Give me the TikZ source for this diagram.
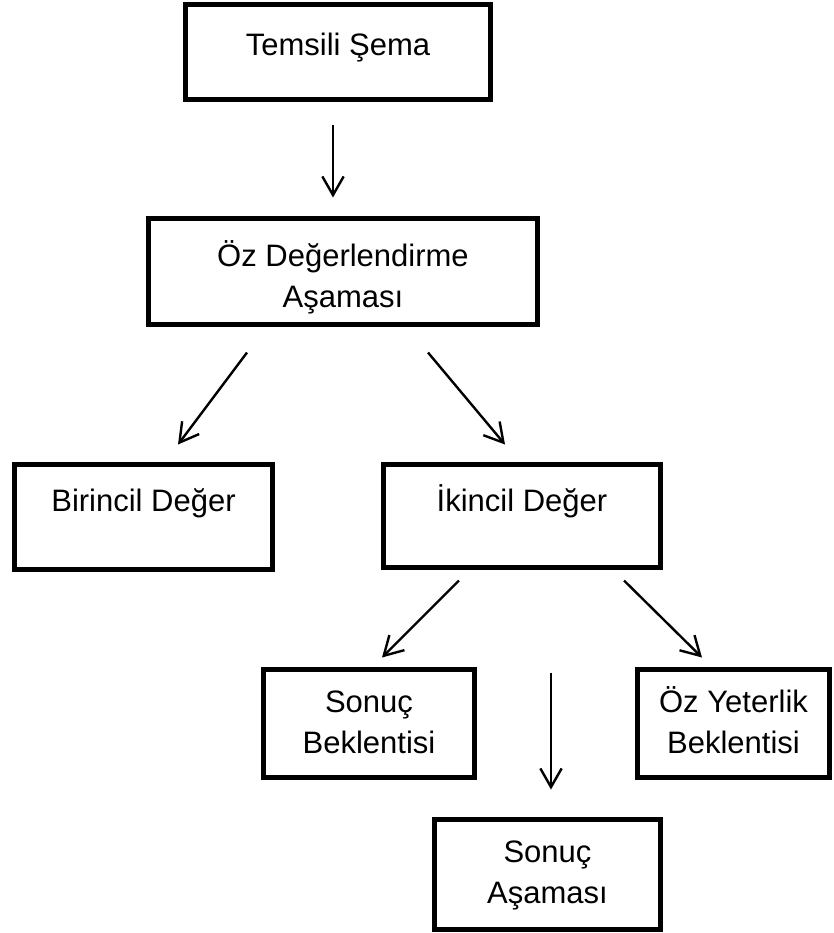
\documentclass[tikz,border=0pt]{standalone}
\usepackage{fontspec}
\setmainfont{Liberation Sans}
\usetikzlibrary{arrows.meta}

\begin{document}
\begin{tikzpicture}[x=0.75pt, y=-0.75pt,
	box/.style={draw, line width=3.75pt, align=center, inner sep=0pt,
		font=\fontsize{23.25}{30.75}\selectfont},
	arr/.style={-{Straight Barb[length=14pt, width=16pt]}, line width=1.8pt}]
	\useasboundingbox (0,0) rectangle (834,933);
	\node[box, minimum width=228.75pt, minimum height=71.25pt, text height=17pt, text depth=12.5pt] (TS) at (338,52) {Temsili Şema};
	\node[box, minimum width=291.75pt, minimum height=79.5pt, text height=53.25pt, text depth=0pt] (OD) at (343,271.5) {Öz Değerlendirme\\Aşaması};
	\node[box, minimum width=193.5pt, minimum height=78.75pt, text height=17pt, text depth=26pt] (BD) at (143.5,517) {Birincil Değer};
	\node[box, minimum width=207.75pt, minimum height=77.25pt, text height=17pt, text depth=24.5pt] (ID) at (522,516) {İkincil Değer};
	\node[box, minimum width=158.25pt, minimum height=81pt, text height=44.25pt, text depth=0pt] (SB) at (369,723.5) {Sonuç\\Beklentisi};
	\node[box, minimum width=144pt, minimum height=81pt, text height=44.25pt, text depth=0pt] (OYB) at (733.5,723.5) {Öz Yeterlik\\Beklentisi};
	\node[box, minimum width=169.5pt, minimum height=82.5pt, text height=42.75pt, text depth=0pt] (SA) at (547.5,874.5) {Sonuç\\Aşaması};
	\draw[arr] ([shift={(-5,22.5)}]TS.south) -- ([shift={(-10,-18.5)}]OD.north);
	\draw[arr] ([shift={(-96,25.5)}]OD.south) -- ([shift={(34.5,-17.5)}]BD.north);
	\draw[arr] ([shift={(85,25.5)}]OD.south) -- ([shift={(-17,-17.5)}]ID.north);
	\draw[arr] ([shift={(-63,10.5)}]ID.south) -- ([shift={(13,-9.5)}]SB.north);
	\draw[arr] ([shift={(102,10.5)}]ID.south) -- ([shift={(-31.5,-9.5)}]OYB.north);
	\draw[arr] ([shift={(29,102.5)}]ID.south) -- ([shift={(3.5,-27.5)}]SA.north);
\end{tikzpicture}
\end{document}
